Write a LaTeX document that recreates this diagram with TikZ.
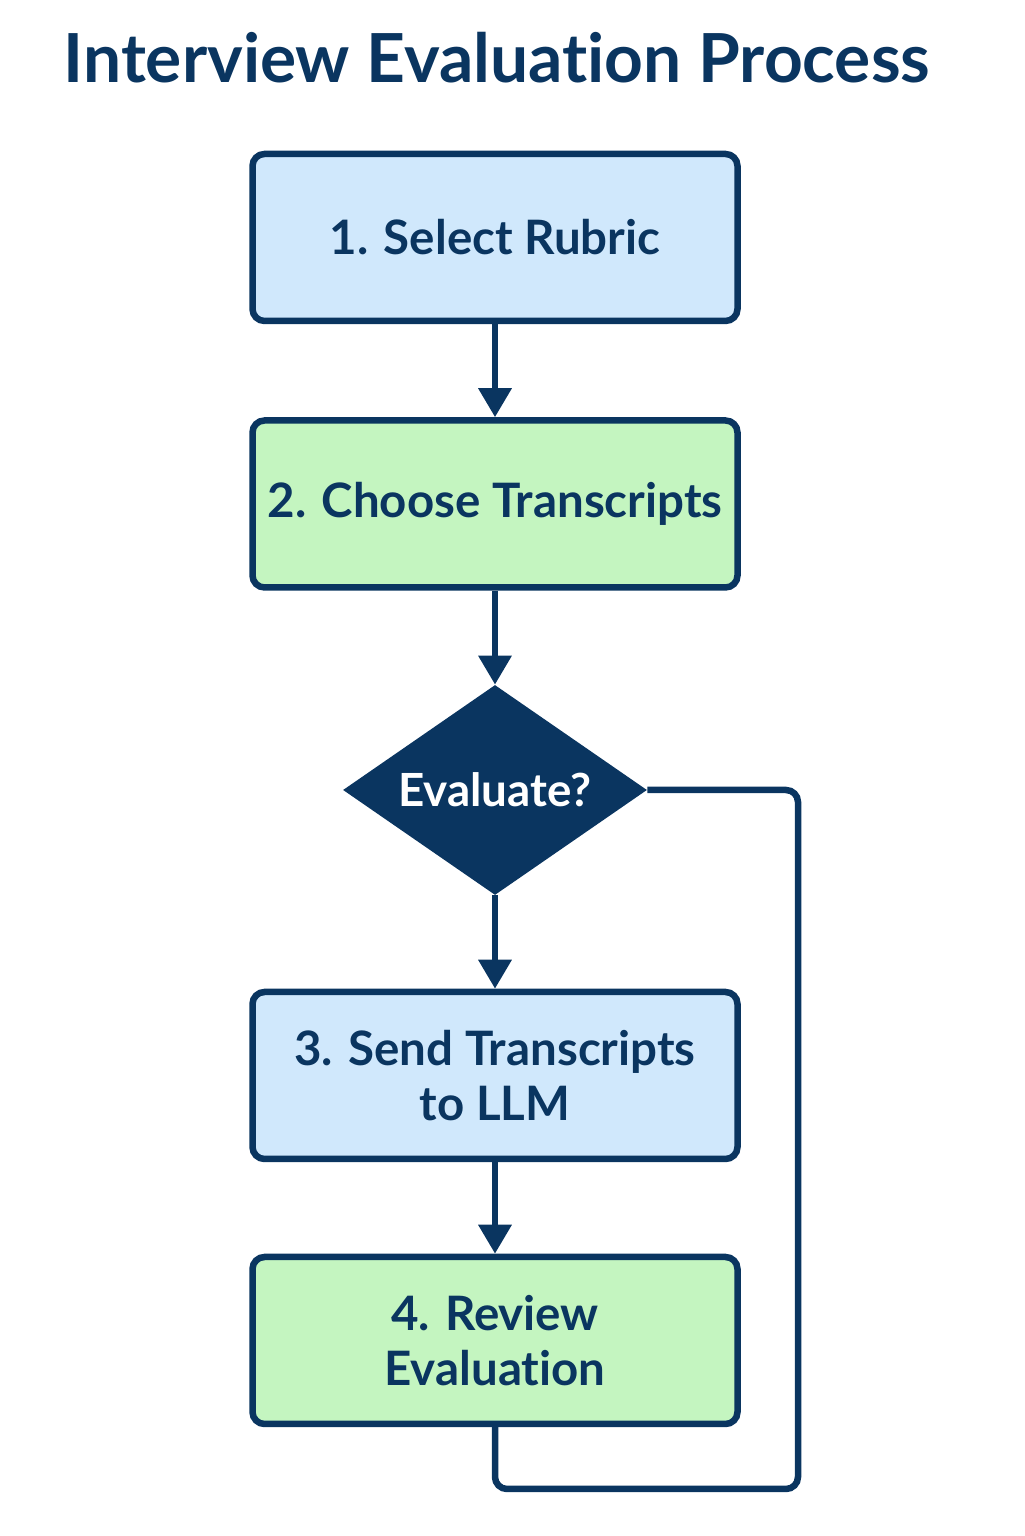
\documentclass[tikz,border=0pt]{standalone}
\usepackage{fontspec}
\setmainfont{Lato}[Ligatures=NoCommon]
\usepackage{tikz}
\usetikzlibrary{shapes.geometric, arrows.meta, positioning}
\definecolor{navy}{RGB}{10,53,96}
\definecolor{stepblue}{RGB}{208,232,252}
\definecolor{stepgreen}{RGB}{196,245,192}

\begin{document}
\begin{tikzpicture}[
  stepbox/.style={draw=navy, line width=0.13cm, rounded corners=0.24cm, minimum width=9.7cm, minimum height=3.34cm, align=center, text=navy, font=\fontsize{27}{31.5}\selectfont\bfseries},
  flow/.style={draw=navy, line width=0.13cm, -{Triangle[width=0.64cm,length=0.58cm]}}]
  \useasboundingbox (0,0) rectangle (20.48,30.72);
  \node[text=navy, font=\fontsize{38.5}{46}\selectfont\bfseries] (title) at (9.94,29.56) {Interview Evaluation Process};
  % steps
  \node[stepbox, fill=stepblue] (rubric) at (9.9,25.97) {1. Select Rubric};
  \node[stepbox, fill=stepgreen] (choose) at (9.9,20.64) {2. Choose Transcripts};
  \node[diamond, aspect=1.45, fill=navy, text=white, inner sep=0pt, minimum width=6.08cm, minimum height=4.2cm, font=\fontsize{26}{30}\selectfont\bfseries] (decide) at (9.9,14.92) {Evaluate?};
  \node[stepbox, fill=stepblue] (send) at (9.9,9.21) {3. Send Transcripts\\to LLM};
  \node[stepbox, fill=stepgreen] (review) at (9.9,3.91) {4. Review\\Evaluation};
  \draw[flow] (rubric) -- (choose);
  \draw[flow] (choose) -- (decide);
  \draw[flow] (decide) -- (send);
  \draw[flow] (send) -- (review);
  % loop back
  \coordinate (loopturn) at (15.96,0.94);
  \draw[navy, line width=0.13cm, rounded corners=0.24cm] (review.south) |- (loopturn) |- (decide.east);
\end{tikzpicture}
\end{document}
